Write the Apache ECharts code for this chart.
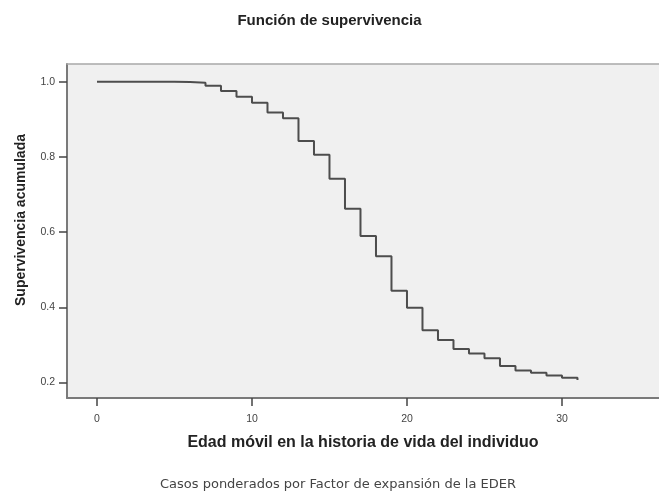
<!DOCTYPE html>
<html>
<head>
<meta charset="utf-8">
<script src="https://cdn.jsdelivr.net/npm/echarts@6/dist/echarts.min.js"></script>
<style>
  html, body { margin: 0; padding: 0; background: #ffffff; }
  #chart { width: 659px; height: 493px; }
</style>
</head>
<body>
<div id="chart"></div>
<script>
// Kaplan-Meier survival estimate: age at which each step starts and the survival value from there on
const ages     = [0, 5, 6, 7, 8, 9, 10, 11, 12, 13, 14, 15, 16, 17, 18, 19, 20, 21, 22, 23, 24, 25, 26, 27, 28, 29, 30, 31];
const survival = [1.000, 0.999, 0.997, 0.989, 0.975, 0.960, 0.944, 0.918, 0.903, 0.842, 0.806, 0.742, 0.662, 0.590,
                  0.536, 0.444, 0.399, 0.339, 0.313, 0.289, 0.277, 0.265, 0.244, 0.232, 0.226, 0.219, 0.213, 0.207];

const xTicks = [0, 10, 20, 30];
const yTicks = [0.2, 0.4, 0.6, 0.8, 1.0];

const titleText  = 'Función de supervivencia';
const xAxisTitle = 'Edad móvil en la historia de vida del individuo';
const yAxisTitle = 'Supervivencia acumulada';
const footnote   = 'Casos ponderados por Factor de expansión de la EDER';

const FONT = '"Liberation Sans", Arial, sans-serif';
const NOTE_FONT = '"DejaVu Sans", Verdana, sans-serif';
const X_MIN = -1.935, X_MAX = 36.26;

const chart = echarts.init(document.getElementById('chart'), null, { renderer: 'canvas' });

chart.setOption({
  animation: false,
  backgroundColor: '#ffffff',
  title: [
    {
      text: titleText,
      left: 'center',
      top: 8,
      textStyle: { fontFamily: FONT, fontSize: 15, fontWeight: 'bold', color: '#222' }
    },
    {
      text: footnote,
      left: 155,
      top: 473,
      textStyle: { fontFamily: NOTE_FONT, fontSize: 13, fontWeight: 'normal', color: '#444' }
    }
  ],
  graphic: [
    {
      // vertical axis title
      type: 'text',
      x: 21,
      y: 220,
      rotation: Math.PI / 2,
      style: {
        text: yAxisTitle,
        fontFamily: FONT,
        fontSize: 14,
        fontWeight: 'bold',
        fill: '#222',
        align: 'center',
        verticalAlign: 'middle'
      }
    }
  ],
  grid: {
    left: 67,
    top: 64,
    right: 0,
    bottom: 95,
    show: true,
    backgroundColor: '#f0f0f0',
    borderWidth: 0
  },
  xAxis: [
    {
      type: 'value',
      min: X_MIN,
      max: X_MAX,
      name: xAxisTitle,
      nameLocation: 'middle',
      nameGap: 37,
      nameTextStyle: { fontFamily: FONT, fontSize: 16, fontWeight: 'bold', color: '#222' },
      axisLine: { show: true, onZero: false, lineStyle: { color: '#7a7a7a', width: 2 } },
      axisTick: { show: true, customValues: xTicks, length: 8, lineStyle: { color: '#444', width: 1.5 } },
      axisLabel: {
        customValues: xTicks,
        margin: 16,
        fontFamily: FONT,
        fontSize: 10.5,
        color: '#444'
      },
      splitLine: { show: false }
    },
    {
      // frame line along the top of the plot area
      type: 'value',
      position: 'top',
      min: X_MIN,
      max: X_MAX,
      axisLine: { show: true, onZero: false, lineStyle: { color: '#a8a8a8', width: 1.5 } },
      axisTick: { show: false },
      axisLabel: { show: false },
      splitLine: { show: false }
    }
  ],
  yAxis: {
    type: 'value',
    min: 0.159,
    max: 1.047,
    axisLine: { show: true, onZero: false, lineStyle: { color: '#7a7a7a', width: 2 } },
    axisTick: { show: true, customValues: yTicks, length: 8, lineStyle: { color: '#444', width: 1.5 } },
    axisLabel: {
      customValues: yTicks,
      margin: 12,
      fontFamily: FONT,
      fontSize: 10.5,
      color: '#444',
      formatter: v => v.toFixed(1)
    },
    splitLine: { show: false }
  },
  series: [
    {
      type: 'line',
      step: 'end',
      data: ages.map((a, i) => [a, survival[i]]),
      showSymbol: false,
      symbol: 'none',
      lineStyle: { color: '#4d4d4d', width: 2 },
      silent: true
    }
  ]
});
</script>
</body>
</html>
